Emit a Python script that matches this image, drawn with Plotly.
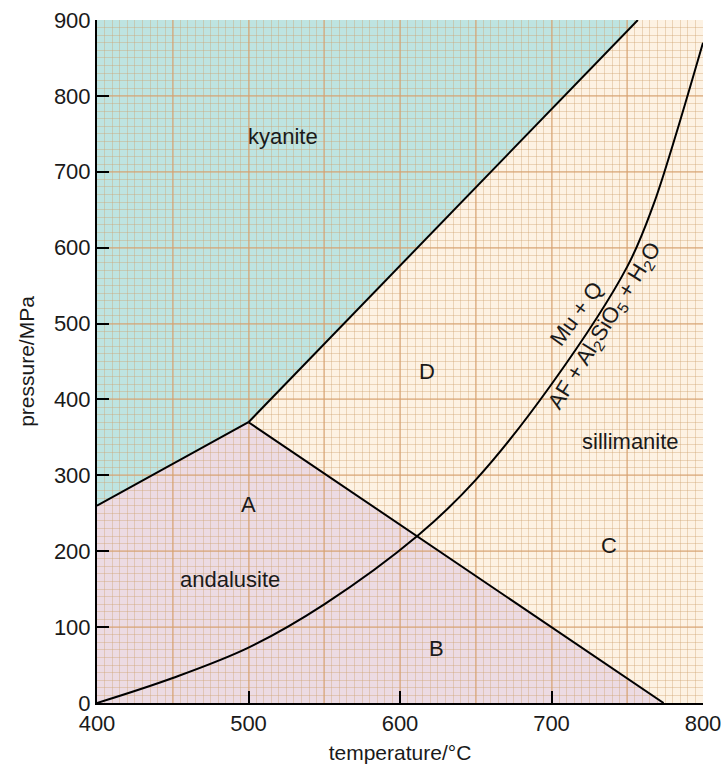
import plotly.graph_objects as go

# Phase boundaries of Al2SiO5 (temperature in °C, pressure in MPa)
ky_and_T = [400, 500]
ky_and_P = [260, 370]
ky_sil_T = [500, 757]
ky_sil_P = [370, 900]
and_sil_T = [500, 774]
and_sil_P = [370, 0]

# Muscovite + quartz breakdown curve
mu_T = [400, 450, 500, 550, 612, 650, 700, 750, 767, 780, 800]
mu_P = [0, 33, 73, 130, 221, 294, 420, 575, 655, 735, 870]

T_MIN, T_MAX = 400, 800
P_MIN, P_MAX = 0, 900

x_ticks = [400, 500, 600, 700, 800]
y_ticks = [0, 100, 200, 300, 400, 500, 600, 700, 800, 900]

# Field labels: (T, P, text)
field_labels = [
    (523, 747, "kyanite"),
    (618, 437, "D"),
    (752, 345, "sillimanite"),
    (500, 262, "A"),
    (738, 208, "C"),
    (488, 163, "andalusite"),
    (624, 72, "B"),
]

KY_COL = "#bee4e1"
AND_COL = "#ecdbe3"
SIL_COL = "#fdf2e3"


def path(points):
    return "M " + " L ".join(f"{t},{p}" for t, p in points) + " Z"


ky_poly = [(T_MIN, P_MAX), (ky_and_T[0], ky_and_P[0]), (ky_and_T[1], ky_and_P[1]),
           (ky_sil_T[1], ky_sil_P[1])]
and_poly = [(T_MIN, P_MIN), (ky_and_T[0], ky_and_P[0]), (ky_and_T[1], ky_and_P[1]),
            (and_sil_T[1], and_sil_P[1])]
sil_poly = [(ky_sil_T[0], ky_sil_P[0]), (ky_sil_T[1], ky_sil_P[1]), (T_MAX, P_MAX),
            (T_MAX, P_MIN), (and_sil_T[1], and_sil_P[1])]

fig = go.Figure()

line_style = dict(color="black", width=2)
for xs, ys in [(ky_and_T, ky_and_P), (ky_sil_T, ky_sil_P), (and_sil_T, and_sil_P)]:
    fig.add_trace(go.Scatter(x=xs, y=ys, mode="lines", line=line_style,
                             hoverinfo="skip", showlegend=False))
fig.add_trace(go.Scatter(x=mu_T, y=mu_P, mode="lines",
                         line=dict(color="black", width=2, shape="spline", smoothing=1.0),
                         hoverinfo="skip", showlegend=False))
# trace that carries the secondary x axis used for the inward tick marks
fig.add_trace(go.Scatter(x=[T_MIN], y=[P_MIN], xaxis="x2", mode="markers",
                         marker=dict(opacity=0), hoverinfo="skip", showlegend=False))

for poly, col in [(ky_poly, KY_COL), (and_poly, AND_COL), (sil_poly, SIL_COL)]:
    fig.add_shape(type="path", path=path(poly), fillcolor=col, line=dict(width=0),
                  layer="below", xref="x", yref="y")

font_family = "Liberation Sans, Arial, sans-serif"
label_font = dict(size=22, color="#1a1a1a", family=font_family)
for t, p, txt in field_labels:
    fig.add_annotation(x=t, y=p, text=txt, showarrow=False, font=label_font)

fig.add_annotation(x=716.5, y=513, text="Mu + Q", showarrow=False, textangle=-54,
                   font=label_font)
fig.add_annotation(x=735.5, y=497, text="AF + Al<sub>2</sub>SiO<sub>5</sub> + H<sub>2</sub>O",
                   showarrow=False, textangle=-58, font=label_font)

grid_minor = "rgba(205,160,110,0.38)"
grid_major = "rgba(215,160,110,0.5)"

x_major = list(range(T_MIN, T_MAX + 1, 50))
fig.update_layout(
    width=726, height=767,
    margin=dict(l=97, r=23, t=20, b=64),
    paper_bgcolor="white",
    plot_bgcolor=SIL_COL,
    font=dict(family=font_family, size=22, color="#1a1a1a"),
    xaxis=dict(
        range=[T_MIN, T_MAX], automargin=False,
        tickvals=x_major,
        ticktext=[str(v) if v in x_ticks else "" for v in x_major],
        ticks="", showgrid=True, gridcolor=grid_major, gridwidth=2,
        minor=dict(dtick=5, tick0=T_MIN, showgrid=True, gridcolor=grid_minor, gridwidth=1),
        showline=True, linecolor="black", linewidth=2,
        zeroline=False,
        tickfont=dict(size=22),
        title=dict(text="temperature/°C", font=dict(size=21), standoff=10),
    ),
    xaxis2=dict(
        range=[T_MIN, T_MAX], overlaying="x", anchor="y", side="bottom", automargin=False,
        tickvals=x_ticks, ticks="inside", ticklen=12, tickwidth=1.5, tickcolor="black",
        showticklabels=False, showgrid=False, showline=False, zeroline=False,
    ),
    yaxis=dict(
        range=[P_MIN, P_MAX], automargin=False,
        tickvals=y_ticks,
        ticks="inside", ticklen=12, tickwidth=2, tickcolor="black",
        showgrid=True, gridcolor=grid_major, gridwidth=2,
        minor=dict(dtick=10, tick0=0, showgrid=True, gridcolor=grid_minor, gridwidth=1),
        showline=True, linecolor="black", linewidth=2,
        zeroline=False,
        tickfont=dict(size=22),
        title=dict(text="pressure/MPa", font=dict(size=21), standoff=14),
    ),
)

fig.write_html("out.html")
